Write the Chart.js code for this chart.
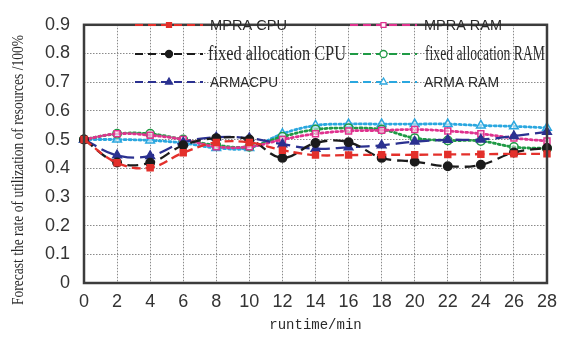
<!DOCTYPE html>
<html>
<head>
<meta charset="utf-8">
<script src="https://cdn.jsdelivr.net/npm/chart.js@4.4.1/dist/chart.umd.min.js"></script>
<style>
  html, body { margin: 0; padding: 0; background: #fff; }
  #wrap { width: 565px; height: 339px; }
</style>
</head>
<body>
<div id="wrap"><canvas id="forecastChart" width="565" height="339"></canvas></div>
<script>
// runtime in minutes, one sample every 2 min
const runtime = [0, 2, 4, 6, 8, 10, 12, 14, 16, 18, 20, 22, 24, 26, 28];
const yTicks = [0, 0.1, 0.2, 0.3, 0.4, 0.5, 0.6, 0.7, 0.8, 0.9];

const mpraCpu  = [0.50, 0.419, 0.402, 0.454, 0.490, 0.490, 0.463, 0.446, 0.446, 0.447, 0.447, 0.448, 0.449, 0.450, 0.450];
const mpraRam  = [0.50, 0.520, 0.515, 0.500, 0.475, 0.475, 0.500, 0.520, 0.530, 0.532, 0.535, 0.530, 0.520, 0.505, 0.495];
const fixedCpu = [0.50, 0.420, 0.419, 0.480, 0.505, 0.500, 0.436, 0.488, 0.491, 0.436, 0.423, 0.407, 0.412, 0.455, 0.471];
const fixedRam = [0.50, 0.520, 0.520, 0.500, 0.480, 0.475, 0.510, 0.535, 0.540, 0.535, 0.505, 0.497, 0.495, 0.474, 0.469];
const armaCpu  = [0.50, 0.445, 0.443, 0.490, 0.508, 0.505, 0.484, 0.468, 0.473, 0.480, 0.493, 0.499, 0.500, 0.512, 0.527];
const armaRam  = [0.50, 0.500, 0.497, 0.488, 0.471, 0.471, 0.520, 0.549, 0.554, 0.554, 0.554, 0.554, 0.549, 0.546, 0.541];

const DOT = [2, 3];

function series(label, values, color, pointStyle, filled, dash) {
  const dotted = dash === DOT;
  return {
    label: label,
    data: runtime.map((t, i) => ({ x: t, y: values[i] })),
    borderColor: color,
    backgroundColor: color,
    borderWidth: dotted ? 2.8 : 2.3,
    borderDash: dash,
    borderCapStyle: dotted ? 'round' : 'butt',
    tension: 0.4,
    pointStyle: pointStyle,
    pointRadius: pointStyle === 'triangle' ? 5 : 4.2,
    pointBorderWidth: 1.5,
    pointBorderColor: color,
    pointBackgroundColor: filled ? color : 'rgba(255,255,255,0.5)',
    clip: false
  };
}

const datasets = [
  series('MPRA CPU', mpraCpu, '#e3302b', 'rect', true, [9, 5]),
  series('fixed allocation CPU', fixedCpu, '#1b1b1b', 'circle', true, [11, 6]),
  series('ARMACPU', armaCpu, '#2b3190', 'triangle', true, [14, 6]),
  series('MPRA RAM', mpraRam, '#e0338f', 'rect', false, DOT),
  series('fixed allocation RAM', fixedRam, '#1f9a45', 'circle', false, DOT),
  series('ARMA RAM', armaRam, '#2aa7df', 'triangle', false, DOT)
];

// legend placement: two columns, three rows inside the plot
const legendLayout = [
  { x1: 135, x2: 203, tx: 210, y: 25, w: 77,  font: 'sans' },
  { x1: 135, x2: 203, tx: 208, y: 54, w: 138, font: 'serif' },
  { x1: 135, x2: 203, tx: 210, y: 82, w: 68,  font: 'sans' },
  { x1: 350, x2: 417, tx: 424, y: 25, w: 78,  font: 'sans' },
  { x1: 350, x2: 417, tx: 425, y: 54, w: 120, font: 'serif' },
  { x1: 350, x2: 417, tx: 424, y: 82, w: 75,  font: 'sans' }
];

const framePlugin = {
  id: 'frame',
  afterDatasetsDraw(chart) {
    const { ctx, chartArea: a } = chart;
    ctx.save();
    ctx.strokeStyle = '#3c3c3c';
    ctx.lineWidth = 2.5;
    ctx.strokeRect(a.left, a.top, a.right - a.left, a.bottom - a.top);
    ctx.restore();
  }
};

const legendPlugin = {
  id: 'lineLegend',
  afterDraw(chart) {
    const ctx = chart.ctx;
    chart.data.datasets.forEach((ds, i) => {
      const L = legendLayout[i];
      ctx.save();
      ctx.strokeStyle = ds.borderColor;
      ctx.lineWidth = 2;
      ctx.setLineDash([8, 5]);
      ctx.beginPath();
      ctx.moveTo(L.x1, L.y);
      ctx.lineTo(L.x2, L.y);
      ctx.stroke();
      ctx.setLineDash([]);

      ctx.fillStyle = ds.pointBackgroundColor === ds.borderColor ? ds.borderColor : '#fff';
      ctx.strokeStyle = ds.borderColor;
      ctx.lineWidth = 1.3;
      Chart.helpers.drawPoint(ctx, {
        pointStyle: ds.pointStyle,
        radius: ds.pointStyle === 'triangle' ? 4 : 3.5,
        borderWidth: 1.3,
        rotation: 0
      }, (L.x1 + L.x2) / 2, L.y);

      ctx.fillStyle = '#2a2a2a';
      ctx.textBaseline = 'middle';
      ctx.font = L.font === 'serif' ? '20px "Liberation Serif"' : '15px "Liberation Sans"';
      const w = ctx.measureText(ds.label).width;
      ctx.translate(L.tx, L.y + 1);
      ctx.scale(L.w / w, 1);
      ctx.fillText(ds.label, 0, 0);
      ctx.restore();
    });
  }
};

const yTitlePlugin = {
  id: 'yTitle',
  afterDraw(chart) {
    const ctx = chart.ctx;
    const text = 'Forecast the rate of utilization of resources /100%';
    ctx.save();
    ctx.font = '17px "Liberation Serif"';
    ctx.fillStyle = '#2a2a2a';
    ctx.textAlign = 'center';
    ctx.textBaseline = 'middle';
    const w = ctx.measureText(text).width;
    ctx.translate(19, 170);
    ctx.rotate(-Math.PI / 2);
    ctx.scale(270 / w, 1);
    ctx.fillText(text, 0, 0);
    ctx.restore();
  }
};

new Chart(document.getElementById('forecastChart').getContext('2d'), {
  type: 'line',
  data: { datasets: datasets },
  plugins: [framePlugin, legendPlugin, yTitlePlugin],
  options: {
    responsive: false,
    animation: false,
    layout: { padding: { left: 0, top: 12, right: 14, bottom: 0 } },
    plugins: {
      legend: { display: false },
      tooltip: { enabled: false }
    },
    scales: {
      x: {
        type: 'linear',
        min: 0,
        max: 28,
        afterFit(scale) { scale.height = 56; },
        afterBuildTicks(scale) { scale.ticks = runtime.map(v => ({ value: v })); },
        ticks: {
          color: '#333',
          padding: 8,
          maxRotation: 0,
          autoSkip: false,
          font: { family: '"Liberation Sans"', size: 18 },
          callback: v => String(v)
        },
        grid: { color: '#8a8a8a', lineWidth: 1, drawTicks: false },
        border: { display: false, dash: [1.5, 1.5] },
        title: {
          display: true,
          text: 'runtime/min',
          color: '#2a2a2a',
          font: { family: '"Liberation Mono"', size: 14 },
          padding: { top: 0, bottom: 5 }
        }
      },
      y: {
        min: 0,
        max: 0.9,
        afterFit(scale) { scale.width = 84; },
        afterBuildTicks(scale) { scale.ticks = yTicks.map(v => ({ value: v })); },
        ticks: {
          color: '#333',
          padding: 14,
          autoSkip: false,
          font: { family: '"Liberation Sans"', size: 18 },
          callback: v => (v === 0 ? '0' : v.toFixed(1))
        },
        grid: { color: '#8a8a8a', lineWidth: 1, drawTicks: false },
        border: { display: false, dash: [1.5, 1.5] }
      }
    }
  }
});
</script>
</body>
</html>
